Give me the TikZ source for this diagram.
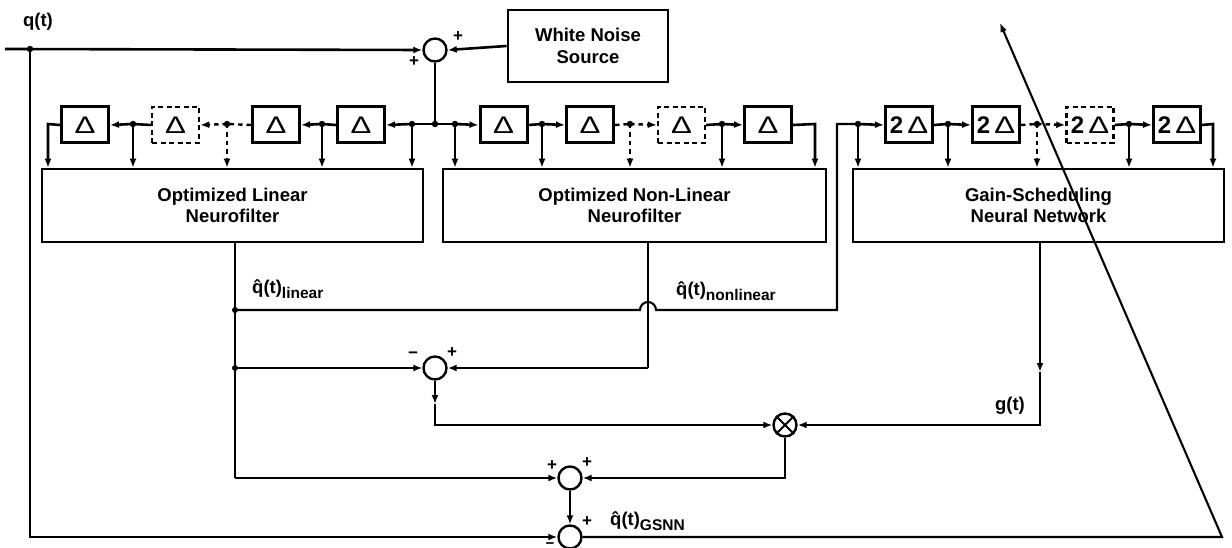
\documentclass[tikz,border=0pt]{standalone}
\usepackage{fontspec}
\setmainfont{Liberation Sans}
\usetikzlibrary{arrows.meta}
\begin{document}
\begin{tikzpicture}[x=1pt,y=-1pt,
  dbox/.style={draw, line width=3pt, minimum width=47pt, minimum height=36pt, inner sep=0pt, font=\fontsize{24}{24}\selectfont},
  ddbox/.style={dbox, line width=2.4pt, dash pattern=on 5pt off 3.5pt},
  filt/.style={draw, line width=2.6pt, inner sep=0pt, minimum height=73pt, align=center, font=\fontsize{18.5}{21}\selectfont\bfseries},
  sumc/.style={draw, circle, line width=2.4pt, minimum size=23pt, inner sep=0pt},
  wire/.style={line width=2.6pt},
  lwire/.style={line width=2.1pt},
  dwire/.style={line width=2.4pt, dash pattern=on 4.5pt off 4pt},
  arr/.style={-{Latex[length=9pt,width=7pt]}},
  sign/.style={font=\fontsize{17}{17}\selectfont\bfseries, inner sep=0pt},
  msign/.style={font=\fontsize{15}{15}\selectfont\bfseries, inner sep=0pt, text height=4pt, text depth=0pt},
  lab/.style={font=\fontsize{18.5}{20}\selectfont\bfseries, inner sep=0pt}
]
\useasboundingbox (0,0) rectangle (1232,548);
\newcommand{\Dl}{\scalebox{1.3}[1]{Δ}}

% ---------- input and noise ----------
\node[lab] (q) at (38,22) {q(t)};
\coordinate (in) at (5,49);
\coordinate (qd) at (30,49);
\node[sumc] (s1) at (435,50) {};
\node[draw, line width=2.8pt, minimum width=160pt, minimum height=72pt, inner sep=0pt, align=center,
      font=\fontsize{18.5}{22}\selectfont\bfseries] (wn) at (588,46) {White Noise\\Source};
\draw[wire,arr] (in) -- (s1.west);
\fill (qd) circle (3.2pt);
\draw[wire,arr] (wn.west) -- (s1.east);
\node[sign] at (458,37) {+};
\node[sign] at (414,62) {+};
\coordinate (j) at (435,124);
\draw[wire] (s1.south) -- (j);

% ---------- filters ----------
\node[filt, minimum width=381pt] (lin) at (232.5,205.5) {Optimized Linear\\Neurofilter};
\node[filt, minimum width=383pt] (nl) at (634.5,205.5) {Optimized Non-Linear\\Neurofilter};
\node[filt, minimum width=371pt] (gs) at (1038.5,205.5) {Gain-Scheduling\\Neural Network};

% ---------- left delay chain ----------
\node[dbox] (dA) at (85,125) {\Dl};
\node[ddbox] (dB) at (175.5,125) {\Dl};
\node[dbox] (dC) at (276,125) {\Dl};
\node[dbox] (dD) at (361,125) {\Dl};
\coordinate (t412) at (412,124);
\coordinate (t322) at (322,124);
\coordinate (t227) at (227,124);
\coordinate (t133) at (133,124);
\coordinate (c48) at (48,124);
\draw[wire] (j) -- (t412);
\draw[wire,arr] (t412) -- (dD.east);
\draw[wire] (dD.west) -- (t322);
\draw[wire,arr] (t322) -- (dC.east);
\draw[dwire] (dC.west) -- (t227);
\draw[dwire,arr] (t227) -- (dB.east);
\draw[wire] (dB.west) -- (t133);
\draw[wire,arr] (t133) -- (dA.east);
\draw[wire,arr] (dA.west) -- (c48) -- (c48 |- lin.north);
\draw[wire,arr] (t412) -- (t412 |- lin.north);
\draw[wire,arr] (t322) -- (t322 |- lin.north);
\draw[dwire,arr] (t227) -- (t227 |- lin.north);
\draw[wire,arr] (t133) -- (t133 |- lin.north);
\foreach \p in {t412,t322,t227,t133,j} \fill (\p) circle (3.2pt);

% ---------- right delay chain ----------
\node[dbox] (dE) at (503.5,125) {\Dl};
\node[dbox] (dF) at (590,125) {\Dl};
\node[ddbox] (dG) at (681.5,125) {\Dl};
\node[dbox] (dH) at (768,125) {\Dl};
\coordinate (t455) at (455,124);
\coordinate (t542) at (542,124);
\coordinate (t630) at (630,124);
\coordinate (t722) at (722,124);
\coordinate (c815) at (815,124);
\draw[wire] (j) -- (t455);
\draw[wire,arr] (t455) -- (dE.west);
\draw[wire] (dE.east) -- (t542);
\draw[wire,arr] (t542) -- (dF.west);
\draw[dwire] (dF.east) -- (t630);
\draw[dwire,arr] (t630) -- (dG.west);
\draw[wire] (dG.east) -- (t722);
\draw[wire,arr] (t722) -- (dH.west);
\draw[wire,arr] (dH.east) -- (c815) -- (c815 |- nl.north);
\draw[wire,arr] (t455) -- (t455 |- nl.north);
\draw[wire,arr] (t542) -- (t542 |- nl.north);
\draw[dwire,arr] (t630) -- (t630 |- nl.north);
\draw[wire,arr] (t722) -- (t722 |- nl.north);
\foreach \p in {t455,t542,t630,t722} \fill (\p) circle (3.2pt);

% ---------- gain scheduling chain ----------
\node[dbox] (gA) at (909,125) {\textbf{2}\,\Dl};
\node[dbox] (gB) at (996,125) {\textbf{2}\,\Dl};
\node[ddbox] (gC) at (1090,125) {\textbf{2}\,\Dl};
\node[dbox] (gD) at (1177,125) {\textbf{2}\,\Dl};
\coordinate (c837) at (837,124);
\coordinate (t858) at (858,124);
\coordinate (t948) at (948,124);
\coordinate (t1037) at (1037,124);
\coordinate (t1129) at (1129,124);
\coordinate (c1213) at (1213,124);
\draw[wire,arr] (t858) -- (gA.west);
\draw[wire] (gA.east) -- (t948);
\draw[wire,arr] (t948) -- (gB.west);
\draw[dwire] (gB.east) -- (t1037);
\draw[dwire,arr] (t1037) -- (gC.west);
\draw[wire] (gC.east) -- (t1129);
\draw[wire,arr] (t1129) -- (gD.west);
\draw[wire,arr] (gD.east) -- (c1213) -- (c1213 |- gs.north);
\draw[wire,arr] (t858) -- (t858 |- gs.north);
\draw[wire,arr] (t948) -- (t948 |- gs.north);
\draw[dwire,arr] (t1037) -- (t1037 |- gs.north);
\draw[wire,arr] (t1129) -- (t1129 |- gs.north);
\foreach \p in {t858,t948,t1037,t1129} \fill (\p) circle (3.2pt);

% ---------- lower signal paths ----------
\node[sumc] (s2) at (435,368) {};
\node[sumc] (mult) at (785,425) {};
\draw[line width=2.1pt] (mult.north east) -- (mult.south west) (mult.north west) -- (mult.south east);
\node[sumc] (s3) at (570,478) {};
\node[sumc] (s4) at (570,537) {};

\coordinate (lo) at (235,242);
\coordinate (d310) at (235,310);
\coordinate (d368) at (235,368);
\coordinate (c478) at (235,478);
\draw[lwire] (lo) -- (c478);
\draw[lwire,arr] (c478) -- (s3.west);
\draw[lwire,arr] (d368) -- (s2.west);
\draw[lwire] (d310) -- (640,310) arc[start angle=180, end angle=0, radius=8pt] -- (837,310) -- (c837) -- (t858);
\fill (d310) circle (3pt);
\fill (d368) circle (3pt);

\coordinate (no) at (648,242);
\coordinate (c648) at (648,368);
\draw[lwire] (no) -- (c648);
\draw[lwire,arr] (c648) -- (s2.east);

\coordinate (m1) at (435,404);
\coordinate (c425) at (435,425);
\draw[lwire,arr] (s2.south) -- (m1);
\draw[lwire,arr] (m1) -- (c425) -- (mult.west);

\coordinate (go) at (1040,242);
\coordinate (g1) at (1040,372);
\coordinate (c1040) at (1040,425);
\draw[lwire,arr] (go) -- (g1);
\draw[lwire,arr] (g1) -- (c1040) -- (mult.east);

\coordinate (c785) at (785,478);
\draw[lwire,arr] (mult.south) -- (c785) -- (s3.east);
\draw[lwire,arr] (s3.south) -- (s4.north);

\coordinate (c30b) at (30,537);
\draw[lwire,arr] (qd) -- (c30b) -- (s4.west);
\coordinate (cr) at (1222,537);
\coordinate (tip) at (1000,23);
\draw[lwire,arr] (s4.east) -- (cr) -- (tip);

% ---------- signs ----------
\node[sign] at (413,355) {\textminus};
\node[sign] at (452,353) {+};
\node[sign] at (552,466) {+};
\node[sign] at (587,463) {+};
\node[sign] at (587,522) {+};
\node[msign] at (550,546) {\textminus};

% ---------- labels ----------
\node[lab, anchor=west] at (252,289) {\^q(t)\raisebox{-5pt}{\fontsize{15.5}{15}\selectfont linear}};
\node[lab, anchor=west] at (676,291) {\^q(t)\raisebox{-5pt}{\fontsize{15.5}{15}\selectfont nonlinear}};
\node[lab] at (1010,406) {g(t)};
\node[lab, anchor=west] at (610,521) {\^q(t)\raisebox{-5pt}{\fontsize{15.5}{15}\selectfont GSNN}};
\end{tikzpicture}
\end{document}
